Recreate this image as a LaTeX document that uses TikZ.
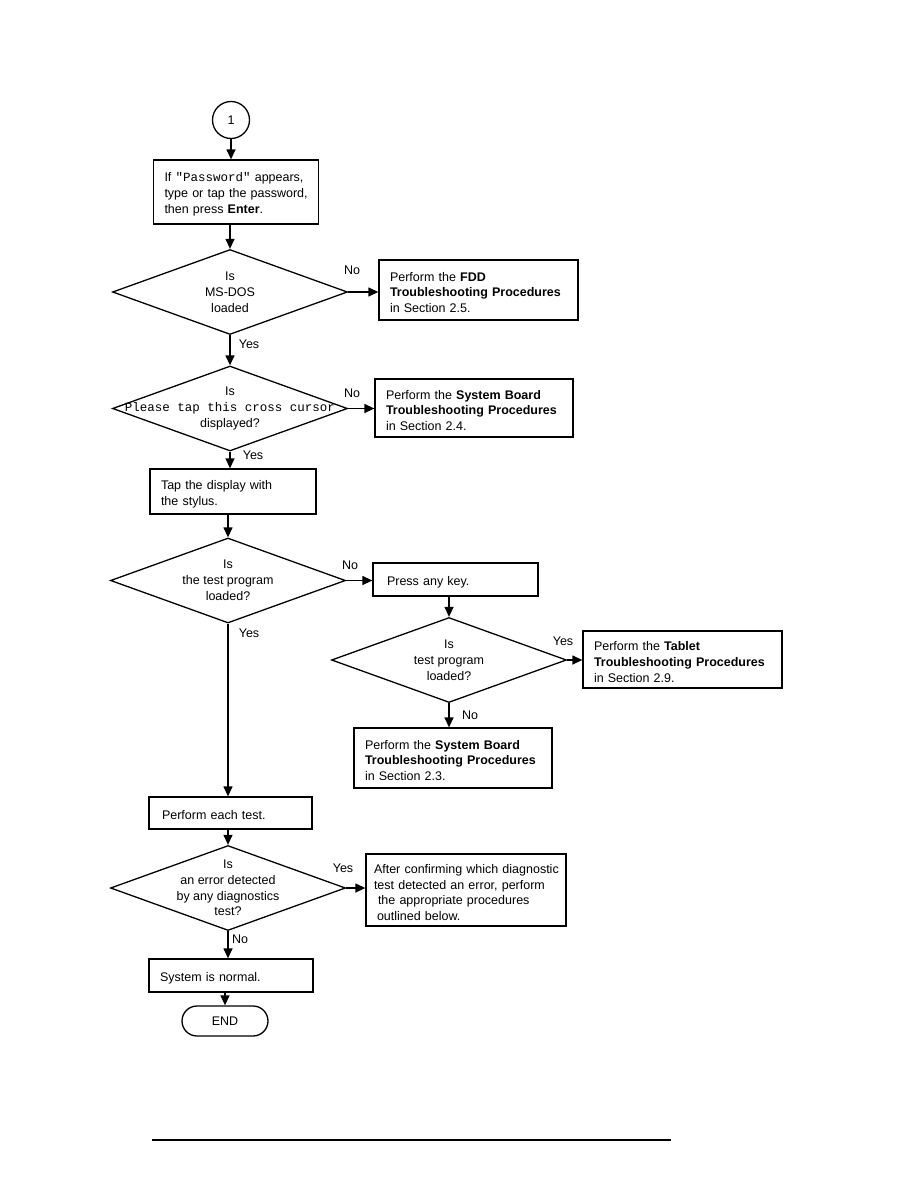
\documentclass[tikz,border=0pt]{standalone}
\usepackage{fontspec}
\setmainfont{Liberation Sans}
\setmonofont{Liberation Mono}
\usepackage{tikz}
\usetikzlibrary{positioning,arrows.meta,shapes.geometric}
\newcommand{\code}[1]{\texttt{#1}}
\newcommand{\chartfont}{\fontsize{12.5pt}{15.8pt}\selectfont}
\tikzset{
  proc/.style={draw, line width=1.3pt, align=left, inner xsep=4pt, inner ysep=2pt, text height=14pt, execute at begin node={\leftskip=#1\relax}},
  proc/.default=7pt,
  decision/.style={draw, diamond, line width=1.3pt, inner sep=0pt, minimum width=235pt, minimum height=85pt},
  term/.style={draw, line width=1.3pt, rounded corners=15pt, minimum width=86pt, minimum height=30pt},
  conn/.style={draw, circle, line width=1.3pt, minimum size=37pt, inner sep=0pt},
  flow/.style={-{Triangle[length=10pt, width=9pt]}, line width=1.3pt},
  lbl/.style={inner sep=1pt},
}

\begin{document}
\begin{tikzpicture}[x=1pt, y=-1pt, font=\chartfont]
  \useasboundingbox (0,0) rectangle (918,1188);
  \node[conn] (start) at (231,120) {1};
  \node[proc, text width=157pt, minimum height=64pt] (pwd) at (236,192) {If \code{"Password"} appears,\\type or tap the password,\\then press \textbf{Enter}.};
  \node[decision, label={[name=d1t, align=center]center:Is\\MS-DOS\\loaded}] (d1) at (230,292) {};
  \node[proc, text width=191pt, minimum height=60pt] (fdd) at (478.5,290) {Perform the \textbf{FDD}\\\textbf{Troubleshooting Procedures}\\in Section 2.5.};
  \node[decision, label={[name=d2t, align=center]center:Is\\\code{Please tap this cross cursor}\\displayed?}] (d2) at (230,408.5) {};
  \node[proc, text width=190pt, minimum height=58pt] (sb1) at (474,408) {Perform the \textbf{System Board}\\\textbf{Troubleshooting Procedures}\\in Section 2.4.};
  \node[proc, text width=158pt, minimum height=45pt] (tap) at (233,491.5) {Tap the display with\\the stylus.};
  \node[decision, label={[name=d3t, align=center]center:Is\\the test program\\loaded?}] (d3) at (228,580.5) {};
  \node[proc, text width=157pt, minimum height=33pt] (press) at (455.5,579.5) {\hspace*{3pt}Press any key.};
  \node[decision, label={[name=d4t, align=center]center:Is\\test program\\loaded?}] (d4) at (449,660) {};
  \node[proc, text width=191pt, minimum height=57pt] (tablet) at (682.5,659.5) {Perform the \textbf{Tablet}\\\textbf{Troubleshooting Procedures}\\in Section 2.9.};
  \node[proc, text width=190pt, minimum height=60pt] (sb2) at (453,758) {Perform the \textbf{System Board}\\\textbf{Troubleshooting Procedures}\\in Section 2.3.};
  \node[proc, text width=155pt, minimum height=32pt] (each) at (230.5,813) {\hspace*{2pt}Perform each test.};
  \node[decision, label={[name=d5t, align=center]center:Is\\an error detected\\by any diagnostics\\test?}] (d5) at (228,888) {};
  \node[proc=4pt, text width=192pt, minimum height=72pt] (after) at (466,890) {After confirming which diagnostic\\test detected an error, perform\\\hspace*{4pt}the appropriate procedures\\\hspace*{3pt}outlined below.};
  \node[proc, text width=156pt, minimum height=33pt] (normal) at (231,975.5) {System is normal.};
  \node[term] (stop) at (225,1021) {END};
  % yes / no marks
  \node[lbl] (no1) at (352,270) {No};
  \node[lbl] (yes1) at (249,344) {Yes};
  \node[lbl] (no2) at (352,393) {No};
  \node[lbl] (yes2) at (253,455) {Yes};
  \node[lbl] (no3) at (350,565) {No};
  \node[lbl] (yes3) at (249,633) {Yes};
  \node[lbl] (yes4) at (563,641) {Yes};
  \node[lbl] (no4) at (470,715) {No};
  \node[lbl] (yes5) at (343,868) {Yes};
  \node[lbl] (no5) at (240,939) {No};
  % connectors
  \draw[flow] (start.south) -- (start |- pwd.north);
  \draw[flow] (pwd.south -| d1.north) -- (d1.north);
  \draw[flow] (d1.east) -- (fdd.west |- d1.east);
  \draw[flow] (d1.south) -- (d2.north);
  \draw[flow] (d2.east) -- (sb1.west |- d2.east);
  \draw[flow] (d2.south) -- (d2.south |- tap.north);
  \draw[flow] (tap.south -| d3.north) -- (d3.north);
  \draw[flow] (d3.east) -- (press.west |- d3.east);
  \draw[flow] (press.south -| d4.north) -- (d4.north);
  \draw[flow] (d4.east) -- (tablet.west |- d4.east);
  \draw[flow] (d4.south) -- (d4.south |- sb2.north);
  \draw[flow] (d3.south) -- (d3.south |- each.north);
  \draw[flow] (each.south -| d5.north) -- (d5.north);
  \draw[flow] (d5.east) -- (after.west |- d5.east);
  \draw[flow] (d5.south) -- (d5.south |- normal.north);
  \draw[flow] (normal.south -| stop.north) -- (stop.north);
  % page rule
  \draw[line width=1.3pt] (152,1140) -- (671,1140);
\end{tikzpicture}
\end{document}
